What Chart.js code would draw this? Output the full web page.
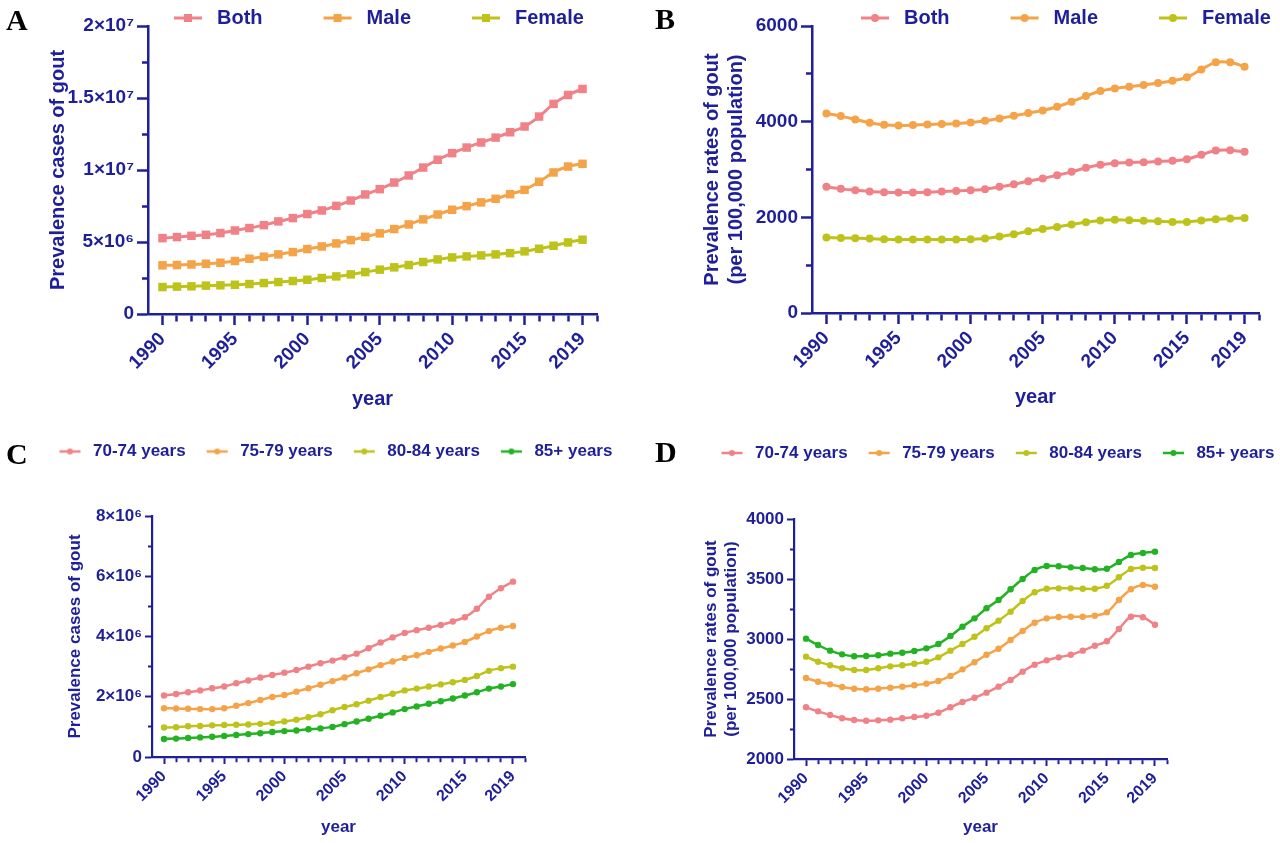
<!DOCTYPE html>
<html>
<head>
<meta charset="utf-8">
<script src="https://cdn.jsdelivr.net/npm/chart.js@4.4.1/dist/chart.umd.min.js"></script>
<style>
  body { margin: 0; background: #fff; width: 1280px; height: 843px; position: relative; overflow: hidden; }
  canvas { position: absolute; }
  .tag { position: absolute; font: bold 30px/30px 'Liberation Serif', 'Times New Roman', serif; color: #000; }
</style>
</head>
<body>
<canvas id="chartA" width="640" height="420" style="left:0;top:0"></canvas>
<canvas id="chartB" width="640" height="420" style="left:640px;top:0"></canvas>
<canvas id="chartC" width="640" height="423" style="left:0;top:420px"></canvas>
<canvas id="chartD" width="640" height="423" style="left:640px;top:420px"></canvas>
<div class="tag" style="left:6px;top:5px">A</div>
<div class="tag" style="left:655px;top:4px">B</div>
<div class="tag" style="left:6px;top:439px">C</div>
<div class="tag" style="left:655px;top:437px">D</div>
<script>
const years = [1990, 1991, 1992, 1993, 1994, 1995, 1996, 1997, 1998, 1999,
  2000, 2001, 2002, 2003, 2004, 2005, 2006, 2007, 2008, 2009,
  2010, 2011, 2012, 2013, 2014, 2015, 2016, 2017, 2018, 2019];
const xLabelYears = [1990, 1995, 2000, 2005, 2010, 2015, 2019];

// A: prevalence cases by sex
const casesBoth = [5.27e6, 5.34e6, 5.43e6, 5.50e6, 5.62e6, 5.80e6, 5.97e6, 6.17e6, 6.43e6, 6.66e6,
  6.94e6, 7.19e6, 7.51e6, 7.88e6, 8.30e6, 8.67e6, 9.13e6, 9.62e6, 10.17e6, 10.71e6,
  11.17e6, 11.56e6, 11.91e6, 12.25e6, 12.62e6, 13.02e6, 13.71e6, 14.59e6, 15.21e6, 15.63e6];
const casesMale = [3.38e6, 3.40e6, 3.44e6, 3.49e6, 3.56e6, 3.68e6, 3.84e6, 3.98e6, 4.14e6, 4.30e6,
  4.51e6, 4.69e6, 4.90e6, 5.13e6, 5.36e6, 5.60e6, 5.90e6, 6.22e6, 6.57e6, 6.91e6,
  7.24e6, 7.49e6, 7.75e6, 8.00e6, 8.32e6, 8.62e6, 9.18e6, 9.83e6, 10.24e6, 10.43e6];
const casesFemale = [1.87e6, 1.90e6, 1.92e6, 1.97e6, 1.99e6, 2.03e6, 2.08e6, 2.15e6, 2.22e6, 2.29e6,
  2.38e6, 2.50e6, 2.61e6, 2.75e6, 2.91e6, 3.08e6, 3.24e6, 3.40e6, 3.61e6, 3.79e6,
  3.93e6, 4.00e6, 4.07e6, 4.14e6, 4.23e6, 4.35e6, 4.53e6, 4.74e6, 4.97e6, 5.16e6];
const yTicksA = [0, 2.5e6, 5e6, 7.5e6, 1e7, 1.25e7, 1.5e7, 1.75e7, 2e7];
const yLabelValsA = [0, 5e6, 1e7, 1.5e7, 2e7];
const yLabelsA = ['0', '5×10⁶', '1×10⁷', '1.5×10⁷', '2×10⁷'];

// B: prevalence rates by sex
const ratesBoth = [2637, 2595, 2567, 2540, 2526, 2519, 2519, 2526, 2540, 2553,
  2567, 2588, 2637, 2693, 2756, 2812, 2881, 2951, 3035, 3098,
  3133, 3147, 3154, 3168, 3181, 3216, 3307, 3398, 3405, 3370];
const ratesMale = [4172, 4116, 4047, 3977, 3935, 3921, 3928, 3942, 3949, 3963,
  3984, 4019, 4068, 4123, 4179, 4235, 4312, 4416, 4535, 4640,
  4695, 4730, 4765, 4807, 4856, 4926, 5093, 5240, 5240, 5149];
const ratesFemale = [1577, 1570, 1563, 1556, 1542, 1535, 1535, 1535, 1535, 1535,
  1542, 1556, 1598, 1647, 1709, 1758, 1800, 1849, 1898, 1933,
  1947, 1940, 1926, 1919, 1905, 1905, 1933, 1961, 1975, 1988];
const yTicksB = [0, 1000, 2000, 3000, 4000, 5000, 6000];
const yLabelValsB = [0, 2000, 4000, 6000];
const yLabelsB = ['0', '2000', '4000', '6000'];

// C: prevalence cases by age group
const cases7074 = [2.04e6, 2.09e6, 2.15e6, 2.21e6, 2.28e6, 2.34e6, 2.45e6, 2.54e6, 2.64e6, 2.72e6,
  2.80e6, 2.89e6, 3.00e6, 3.11e6, 3.20e6, 3.31e6, 3.43e6, 3.61e6, 3.80e6, 3.97e6,
  4.12e6, 4.21e6, 4.29e6, 4.38e6, 4.50e6, 4.64e6, 4.92e6, 5.32e6, 5.60e6, 5.82e6];
const cases7579 = [1.62e6, 1.61e6, 1.60e6, 1.59e6, 1.59e6, 1.62e6, 1.70e6, 1.79e6, 1.89e6, 1.99e6,
  2.06e6, 2.17e6, 2.28e6, 2.40e6, 2.52e6, 2.64e6, 2.78e6, 2.91e6, 3.05e6, 3.17e6,
  3.29e6, 3.38e6, 3.49e6, 3.60e6, 3.70e6, 3.82e6, 4.00e6, 4.18e6, 4.29e6, 4.35e6];
const cases8084 = [0.98e6, 0.99e6, 1.02e6, 1.03e6, 1.05e6, 1.06e6, 1.07e6, 1.08e6, 1.10e6, 1.13e6,
  1.18e6, 1.24e6, 1.32e6, 1.42e6, 1.55e6, 1.66e6, 1.75e6, 1.87e6, 1.99e6, 2.10e6,
  2.21e6, 2.27e6, 2.34e6, 2.41e6, 2.48e6, 2.56e6, 2.69e6, 2.86e6, 2.95e6, 3.00e6];
const cases85 = [0.60e6, 0.61e6, 0.63e6, 0.65e6, 0.67e6, 0.70e6, 0.73e6, 0.76e6, 0.79e6, 0.83e6,
  0.86e6, 0.88e6, 0.92e6, 0.95e6, 1.00e6, 1.09e6, 1.18e6, 1.27e6, 1.37e6, 1.48e6,
  1.59e6, 1.68e6, 1.77e6, 1.85e6, 1.94e6, 2.04e6, 2.15e6, 2.27e6, 2.34e6, 2.42e6];
const yTicksC = [0, 1e6, 2e6, 3e6, 4e6, 5e6, 6e6, 7e6, 8e6];
const yLabelValsC = [0, 2e6, 4e6, 6e6, 8e6];
const yLabelsC = ['0', '2×10⁶', '4×10⁶', '6×10⁶', '8×10⁶'];

// D: prevalence rates by age group
const rates7074 = [2431, 2397, 2367, 2339, 2325, 2319, 2322, 2328, 2339, 2350,
  2361, 2386, 2431, 2475, 2510, 2553, 2603, 2658, 2728, 2786,
  2822, 2847, 2869, 2903, 2944, 2981, 3083, 3186, 3181, 3119];
const rates7579 = [2675, 2644, 2622, 2600, 2586, 2581, 2586, 2594, 2603, 2614,
  2628, 2650, 2692, 2747, 2806, 2869, 2919, 2992, 3067, 3136,
  3172, 3183, 3186, 3186, 3194, 3222, 3325, 3414, 3450, 3436];
const rates8084 = [2853, 2811, 2781, 2756, 2742, 2742, 2756, 2772, 2781, 2794,
  2811, 2847, 2903, 2958, 3019, 3089, 3153, 3228, 3317, 3389,
  3419, 3422, 3422, 3419, 3419, 3444, 3514, 3583, 3594, 3592];
const rates85 = [3003, 2950, 2903, 2872, 2856, 2858, 2864, 2878, 2886, 2900,
  2922, 2958, 3025, 3103, 3172, 3256, 3325, 3414, 3500, 3575,
  3608, 3606, 3597, 3592, 3581, 3586, 3642, 3700, 3717, 3728];
const yTicksD = [2000, 2250, 2500, 2750, 3000, 3250, 3500, 3750, 4000];
const yLabelValsD = [2000, 2500, 3000, 3500, 4000];
const yLabelsD = ['2000', '2500', '3000', '3500', '4000'];

const sexLabels = ['Both', 'Male', 'Female'];
const ageLabels = ['70-74 years', '75-79 years', '80-84 years', '85+ years'];

const blue = '#1f1f99';
const pink = 'rgb(240,130,135)';
const orange = 'rgb(245,163,72)';
const olive = 'rgb(190,195,28)';
const green = 'rgb(34,178,34)';
const fam = "'Liberation Sans', Arial, sans-serif";

// tick marks every year up to the axis end
const xTickYears = [];
for (let y = 1990; y <= 2020; y++) xTickYears.push(y);

// little line + marker picture used as the legend symbol
function legendSample(color, style, w, s0, s1, lw, r) {
  const c = document.createElement('canvas');
  c.width = w; c.height = 16;
  const g = c.getContext('2d');
  g.strokeStyle = color; g.fillStyle = color; g.lineWidth = lw;
  g.beginPath(); g.moveTo(s0, 8); g.lineTo(s1, 8); g.stroke();
  const cx = (s0 + s1) / 2;
  if (style === 'rect') g.fillRect(cx - r, 8 - r, 2 * r, 2 * r);
  else { g.beginPath(); g.arc(cx, 8, r, 0, Math.PI * 2); g.fill(); }
  return c;
}

// puts the legend row where the figure has it: first item at opts.x, text centred on opts.y
const placeLegend = {
  id: 'placeLegend',
  afterLayout(chart, args, opts) {
    const lg = chart.legend;
    if (!lg || opts.x == null) return;
    const pad = lg.options.labels.padding;
    lg.left = opts.x - pad;
    lg.right = lg.left + 3000;
    lg.top = opts.y - pad - lg.options.labels.font.size / 2;
    lg.bottom = lg.top + 60;
  }
};

function makeChart(id, p) {
  const samples = p.series.map(s =>
    legendSample(s.color, p.pointStyle, p.legW, p.seg[0], p.seg[1], p.lineWidth, p.legR));
  const datasets = p.series.map(s => ({
    label: s.label,
    data: years.map((y, i) => ({ x: y, y: s.values[i] })),
    borderColor: s.color,
    backgroundColor: s.color,
    pointBackgroundColor: s.color,
    pointBorderColor: s.color,
    pointStyle: p.pointStyle,
    pointRadius: p.pointRadius,
    pointBorderWidth: 0,
    borderWidth: p.lineWidth,
    tension: 0.3
  }));
  const tickFont = size => ({ family: fam, size: size, weight: 'bold' });
  return new Chart(document.getElementById(id), {
    type: 'line',
    data: { datasets: datasets },
    plugins: [placeLegend],
    options: {
      responsive: false,
      animation: false,
      layout: { padding: p.padding },
      plugins: {
        tooltip: { enabled: false },
        placeLegend: { x: p.legX, y: p.legY },
        legend: {
          position: 'top',
          align: 'start',
          maxHeight: 1,
          labels: {
            usePointStyle: true,
            pointStyleWidth: p.legW,
            padding: 4,
            color: blue,
            font: { family: fam, size: p.legFont, weight: 'bold' },
            generateLabels: chart => chart.data.datasets.map((ds, i) => ({
              text: ds.label,
              fontColor: blue,
              pointStyle: samples[i],
              datasetIndex: i,
              hidden: false,
              lineWidth: 0,
              strokeStyle: ds.borderColor,
              fillStyle: ds.borderColor
            }))
          }
        }
      },
      scales: {
        x: {
          type: 'linear',
          min: 1989,
          max: 2020,
          afterBuildTicks: s => { s.ticks = xTickYears.map(v => ({ value: v })); },
          afterFit: s => { s.height = p.xHeight; },
          ticks: {
            autoSkip: false, minRotation: 45, maxRotation: 45, padding: p.xTickPad,
            color: blue, font: tickFont(p.xTickFont),
            callback: v => xLabelYears.includes(v) ? String(v) : ''
          },
          grid: {
            drawOnChartArea: false, tickLength: p.tl, tickWidth: p.tw, tickColor: blue,
            tickBorderDash: c => (c.tick && xLabelYears.includes(c.tick.value)) ? [] : [p.tm, 100]
          },
          border: { color: blue, width: p.bw },
          title: {
            display: true, text: 'year', color: blue, font: tickFont(p.titleFont),
            padding: { top: 0, bottom: p.xTitlePad }
          }
        },
        y: {
          min: p.yTicks[0],
          max: p.yTicks[p.yTicks.length - 1],
          afterBuildTicks: s => { s.ticks = p.yTicks.map(v => ({ value: v })); },
          afterFit: s => { s.width = p.yWidth; },
          ticks: {
            padding: p.yTickPad, color: blue, font: tickFont(p.yTickFont),
            callback: v => { const i = p.yLabelVals.indexOf(v); return i < 0 ? '' : p.yLabels[i]; }
          },
          grid: {
            drawOnChartArea: false, tickLength: p.tl, tickWidth: p.tw, tickColor: blue,
            tickBorderDash: c => (c.tick && p.yLabelVals.includes(c.tick.value)) ? [] : [0, p.tl - p.tm, p.tm, 0]
          },
          border: { color: blue, width: p.bw },
          title: {
            display: true, text: p.yTitle, color: blue,
            font: { family: fam, size: p.titleFont, weight: 'bold', lineHeight: p.titleLH },
            padding: { top: p.yTitlePad, bottom: 0 }
          }
        }
      }
    }
  });
}

const bigPanel = {
  legFont: 20, legW: 90, seg: [57, 85], legR: 4, legY: 18,
  lineWidth: 3, tl: 11, tm: 6, tw: 2.5, bw: 2.5,
  xTickFont: 19, yTickFont: 19, titleFont: 20, titleLH: 1.2,
  xTickPad: 3, yTickPad: 3, xTitlePad: 0
};
const smallPanel = {
  legFont: 17, legW: 42, seg: [17, 38], legR: 3,
  lineWidth: 2.5, tl: 7, tm: 4, tw: 2, bw: 2.2,
  xTickFont: 16, yTickFont: 17, titleFont: 17, titleLH: 1.15,
  xTickPad: 3, yTickPad: 3, xTitlePad: 0,
  pointStyle: 'circle', pointRadius: 3.2
};

makeChart('chartA', Object.assign({}, bigPanel, {
  padding: { left: 40, right: 43, top: 25, bottom: 9 },
  yWidth: 108, xHeight: 97, legX: 117,
  pointStyle: 'rect', pointRadius: 6,
  yTicks: yTicksA, yLabelVals: yLabelValsA, yLabels: yLabelsA,
  yTitle: 'Prevalence cases of gout', yTitlePad: 6,
  series: [
    { label: sexLabels[0], values: casesBoth, color: pink },
    { label: sexLabels[1], values: casesMale, color: orange },
    { label: sexLabels[2], values: casesFemale, color: olive }
  ]
}));

makeChart('chartB', Object.assign({}, bigPanel, {
  padding: { left: 40, right: 21, top: 25, bottom: 9 },
  yWidth: 132, xHeight: 98, legX: 164, xTitlePad: 2,
  pointStyle: 'circle', pointRadius: 4,
  yTicks: yTicksB, yLabelVals: yLabelValsB, yLabels: yLabelsB,
  yTitle: ['Prevalence rates of gout', '(per 100,000 population)'], yTitlePad: 20,
  series: [
    { label: sexLabels[0], values: ratesBoth, color: pink },
    { label: sexLabels[1], values: ratesMale, color: orange },
    { label: sexLabels[2], values: ratesFemale, color: olive }
  ]
}));

makeChart('chartC', Object.assign({}, smallPanel, {
  padding: { left: 40, right: 115, top: 95, bottom: 5 },
  yWidth: 112, xHeight: 81, legX: 42.5, legY: 31.5,
  yTicks: yTicksC, yLabelVals: yLabelValsC, yLabels: yLabelsC,
  yTitle: 'Prevalence cases of gout', yTitlePad: 26,
  series: [
    { label: ageLabels[0], values: cases7074, color: pink },
    { label: ageLabels[1], values: cases7579, color: orange },
    { label: ageLabels[2], values: cases8084, color: olive },
    { label: ageLabels[3], values: cases85, color: green }
  ]
}));

makeChart('chartD', Object.assign({}, smallPanel, {
  padding: { left: 40, right: 113, top: 98, bottom: 5 },
  yWidth: 114, xHeight: 79, legX: 64.5, legY: 33,
  yTicks: yTicksD, yLabelVals: yLabelValsD, yLabels: yLabelsD,
  yTitle: ['Prevalence rates of gout', '(per 100,000 population)'], yTitlePad: 22,
  series: [
    { label: ageLabels[0], values: rates7074, color: pink },
    { label: ageLabels[1], values: rates7579, color: orange },
    { label: ageLabels[2], values: rates8084, color: olive },
    { label: ageLabels[3], values: rates85, color: green }
  ]
}));
</script>
</body>
</html>
